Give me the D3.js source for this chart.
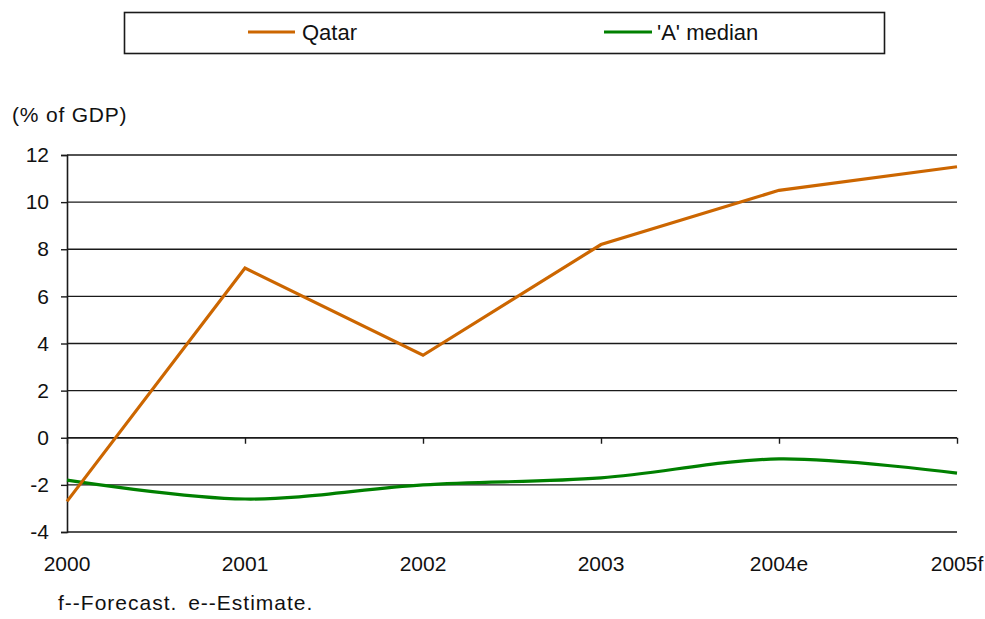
<!DOCTYPE html>
<html>
<head>
<meta charset="utf-8">
<script src="https://cdn.jsdelivr.net/npm/d3@7"></script>
<style>
  html, body { margin: 0; padding: 0; background: #fff; }
  svg { display: block; }
  text { font-family: "Liberation Sans", Arial, sans-serif; fill: #111; }
</style>
</head>
<body>
<svg id="chart" width="985" height="619"></svg>
<script>
// Current account balance, % of GDP
const years = ["2000", "2001", "2002", "2003", "2004e", "2005f"];
const qatar = [-2.7, 7.2, 3.5, 8.2, 10.5, 11.5];
const aMedian = [-1.8, -2.6, -2.0, -1.7, -0.9, -1.5];
const yTicks = [-4, -2, 0, 2, 4, 6, 8, 10, 12];
const seriesNames = ["Qatar", "'A' median"];
const seriesColors = ["#CC6600", "#008000"];

const svg = d3.select("#chart");
const plot = { left: 67, right: 957, top: 155, bottom: 532 };

const x = d3.scalePoint().domain(years).range([plot.left, plot.right]);
const y = d3.scaleLinear().domain([-4, 12]).range([plot.bottom, plot.top]);

// Horizontal gridlines
svg.append("g")
  .selectAll("line")
  .data(yTicks)
  .join("line")
  .attr("x1", plot.left).attr("x2", plot.right)
  .attr("y1", d => y(d)).attr("y2", d => y(d))
  .attr("stroke", "#1a1a1a").attr("stroke-width", 1.4);

// Value axis on the left (plain hyphen for negatives)
const yAxis = svg.append("g")
  .attr("transform", `translate(${plot.left},0)`)
  .call(d3.axisLeft(y).tickValues(yTicks).tickSize(6).tickPadding(12).tickFormat(d => String(d)));
yAxis.select(".domain").attr("stroke", "#1a1a1a").attr("stroke-width", 1.6);
yAxis.selectAll(".tick line").attr("stroke", "#1a1a1a").attr("stroke-width", 1.4);
yAxis.selectAll("text").attr("font-size", 21).attr("fill", "#111")
  .attr("font-family", "Liberation Sans, Arial, sans-serif");

// Category axis crossing at zero, ticks pointing down
const xAxis = svg.append("g")
  .attr("transform", `translate(0,${y(0)})`)
  .call(d3.axisBottom(x).tickSize(6).tickFormat(""));
xAxis.select(".domain").attr("stroke", "#1a1a1a").attr("stroke-width", 1.4)
  .attr("d", `M${plot.left},0H${plot.right}`);
xAxis.selectAll(".tick line").attr("stroke", "#1a1a1a").attr("stroke-width", 1.4);

// Year labels below the plot
svg.append("g")
  .selectAll("text")
  .data(years)
  .join("text")
  .attr("x", d => x(d))
  .attr("y", 571)
  .attr("text-anchor", "middle")
  .attr("font-size", 21)
  .text(d => d);

// Series lines
const straight = d3.line().x((d, i) => x(years[i])).y(d => y(d));
const smooth = d3.line().x((d, i) => x(years[i])).y(d => y(d)).curve(d3.curveCardinal.tension(0));

svg.append("path")
  .datum(aMedian)
  .attr("d", smooth)
  .attr("fill", "none")
  .attr("stroke", seriesColors[1])
  .attr("stroke-width", 3.2);

svg.append("path")
  .datum(qatar)
  .attr("d", straight)
  .attr("fill", "none")
  .attr("stroke", seriesColors[0])
  .attr("stroke-width", 3.2)
  .attr("stroke-linejoin", "miter");

// Unit label
svg.append("text")
  .attr("x", 12).attr("y", 122)
  .attr("font-size", 21)
  .attr("letter-spacing", 0.8)
  .text("(% of GDP)");

// Footnote
svg.append("text")
  .attr("x", 58).attr("y", 610)
  .attr("font-size", 21)
  .attr("letter-spacing", 1)
  .attr("word-spacing", 4)
  .text("f--Forecast. e--Estimate.");

// Legend
const legend = svg.append("g");
legend.append("rect")
  .attr("x", 124.5).attr("y", 12.5)
  .attr("width", 760).attr("height", 41)
  .attr("fill", "#fff").attr("stroke", "#1a1a1a").attr("stroke-width", 1.6);

const legendItems = [
  { x1: 248, x2: 295, tx: 302 },
  { x1: 604, x2: 652, tx: 657 }
];
legendItems.forEach((it, i) => {
  legend.append("line")
    .attr("x1", it.x1).attr("x2", it.x2)
    .attr("y1", 32).attr("y2", 32)
    .attr("stroke", seriesColors[i]).attr("stroke-width", 3.2);
  legend.append("text")
    .attr("x", it.tx).attr("y", 40)
    .attr("font-size", 22)
    .text(seriesNames[i]);
});
</script>
</body>
</html>
